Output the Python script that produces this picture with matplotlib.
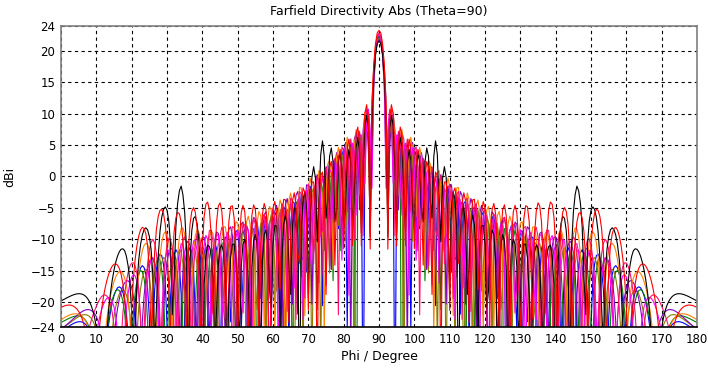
import numpy as np
import matplotlib
matplotlib.use("Agg")
import matplotlib.pyplot as plt

# sweep of phi (degree), same step as the farfield monitor
phi = np.arange(0, 180.001, 0.5)

# series: colour, peak (dBi), array length factor N*d
colors = ["#0000ff", "#008000", "#8c7a00", "#8000c0", "#ff8000",
          "#ff00ff", "#ff1070", "#000000", "#ff0000"]
peaks = [22.4, 22.2, 22.0, 21.8, 22.6, 22.8, 22.9, 21.6, 23.3]
nd = [25.5, 26.5, 24.6, 21.6, 22.4, 27.2, 25.0, 23.5, 23.3]

# envelope correction (dB) read at these phi points, mirrored around 90
knots = [0, 10, 18, 26, 34, 42, 50, 60, 68, 74, 80, 85, 90]
corr = [
    [-13, -9, -5, -1, 0, 0, 2, 3, 4, 4.5, 5, 2, 0],     # blue
    [-11, -8, -5, -1, 0, 0, 2, 3, 4, 4.5, 5, 2, 0],     # green
    [-12, -9, -6, -2, 0, 0, 1, 3, 4, 4, 4.5, 2, 0],     # olive
    [-13, -9, -6, -2, 0, 1, 2, 3, 4, 4.5, 5, 2, 0],     # purple
    [-12, -8, -4, 1, 2, 1, 2, 3, 4, 4.5, 5, 2, 0],      # orange
    [-13, -9, -5, -1, 1, 2, 2, 3, 4, 4.5, 5, 2, 0],     # magenta
    [-13, -9, -4, 1, 1, 2, 2, 3, 4, 4.5, 5, 2, 0],      # pink
    [-8, -5, 1, 4.5, 10, 0, 0, 1, 3, 10, 4, 2, 0],      # black
    [-9, -5.5, -3, 5, 4, 5.5, 4, 3, 3, 3.5, 4, 2, 0],   # red
]

fig = plt.figure(figsize=(7.08, 3.80), dpi=100)
ax = fig.add_axes([0.0862, 0.1395, 0.8983, 0.7921])

for c, pk, n, cr in zip(colors, peaks, nd, corr):
    x = np.pi * 0.5 * np.cos(np.radians(phi))
    N = 2 * n
    with np.errstate(divide="ignore", invalid="ignore"):
        af = np.abs(np.sin(N * x) / (N * np.sin(x)))
    af[np.isnan(af)] = 1.0
    fold = 90 - np.abs(phi - 90)
    level = pk + 20 * np.log10(np.maximum(af, 1e-6)) + np.interp(fold, knots, cr)
    ax.plot(phi, level, color=c, lw=0.8)

ax.set_xlim(0, 180)
ax.set_ylim(-24, 24)
ax.set_xticks(np.arange(0, 181, 10))
ax.set_yticks([-24, -20, -15, -10, -5, 0, 5, 10, 15, 20, 24])
ax.tick_params(length=0, labelsize=8.5, pad=4)
ax.grid(True, color="black", linestyle=(0, (3, 3)), lw=0.8)
for s in ax.spines.values():
    s.set_color("#808080")
    s.set_linewidth(1.2)
ax.spines["bottom"].set_color("black")

ax.set_title("Farfield Directivity Abs (Theta=90)", fontsize=9, pad=8)
ax.set_xlabel("Phi / Degree", fontsize=9, labelpad=3)
ax.set_ylabel("dBi", fontsize=9, labelpad=10)

fig.savefig("out.png", dpi=100)
